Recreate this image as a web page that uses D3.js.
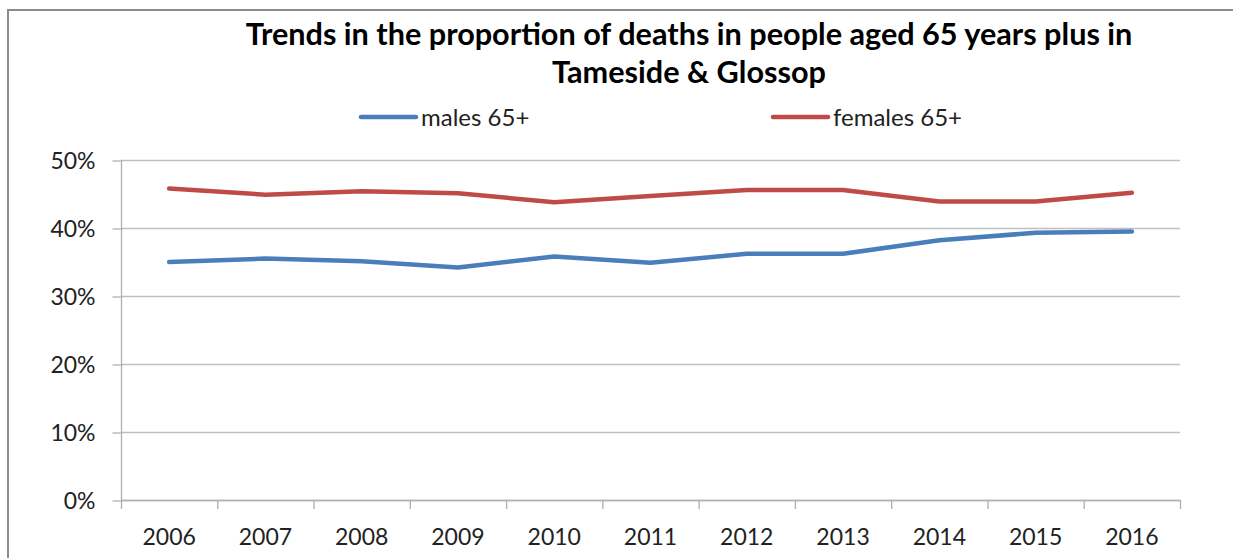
<!DOCTYPE html>
<html>
<head>
<meta charset="utf-8">
<script src="https://cdn.jsdelivr.net/npm/d3@7"></script>
<style>
  html, body { margin: 0; padding: 0; background: #fff; }
  svg { display: block; }
</style>
</head>
<body>
<svg id="chart" width="1233" height="558"></svg>
<script>
const years = ["2006","2007","2008","2009","2010","2011","2012","2013","2014","2015","2016"];
const males65 = [35.0, 35.5, 35.1, 34.2, 35.8, 34.9, 36.2, 36.2, 38.2, 39.3, 39.5];
const females65 = [45.8, 44.9, 45.4, 45.1, 43.8, 44.7, 45.6, 45.6, 43.9, 43.9, 45.2];
const yTicks = [0, 10, 20, 30, 40, 50];
const seriesNames = ["males 65+", "females 65+"];
const titleLines = ["Trends in the proportion of deaths in people aged 65 years plus in", "Tameside & Glossop"];

const colors = ["#4a7ebb", "#be4b48"];
const font = "Lato, 'Open Sans', sans-serif";

const svg = d3.select("#chart");

// outer chart border
svg.append("rect").attr("x", 8).attr("y", 10).attr("width", 1240).attr("height", 600)
  .attr("fill", "#fff").attr("stroke", "#8c8c8c").attr("stroke-width", 2);

const plot = { left: 121, right: 1180, top: 160, bottom: 500 };

const x = d3.scaleBand().domain(years).range([plot.left, plot.right]).paddingInner(0).paddingOuter(0);
const y = d3.scaleLinear().domain([0, 50]).range([plot.bottom, plot.top]);

// gridlines
svg.append("g").selectAll("line").data(yTicks).join("line")
  .attr("x1", plot.left).attr("x2", plot.right)
  .attr("y1", d => y(d) + 0.5).attr("y2", d => y(d) + 0.5)
  .attr("stroke", "#c0c0c0").attr("stroke-width", 1.3);

// Y axis
const yAxis = svg.append("g").attr("transform", `translate(${plot.left + 0.5},0)`)
  .call(d3.axisLeft(y).tickValues(yTicks).tickSize(9).tickPadding(17).tickFormat(d => d + "%"));
yAxis.select(".domain").attr("stroke", "#b0b0b0").attr("stroke-width", 1.3).attr("d", `M0,${plot.top}V${plot.bottom}`);
yAxis.selectAll(".tick line").attr("stroke", "#b0b0b0").attr("stroke-width", 1.3).attr("transform", "translate(0,0.5)");
yAxis.selectAll(".tick text").attr("font-family", font).attr("font-size", 23).attr("fill", "#222").attr("dy", "0.36em");

// X axis
const xAxis = svg.append("g").attr("transform", `translate(0,${plot.bottom + 0.5})`)
  .call(d3.axisBottom(x).tickSize(0).tickPadding(28));
xAxis.select(".domain").remove();
xAxis.selectAll(".tick text").attr("font-family", font).attr("font-size", 23).attr("fill", "#222");
// category boundary ticks
const bounds = years.map(d => x(d)).concat([x(years[years.length - 1]) + x.bandwidth()]);
svg.append("g").selectAll("line").data(bounds).join("line")
  .attr("x1", d => d + 0.5).attr("x2", d => d + 0.5)
  .attr("y1", plot.bottom).attr("y2", plot.bottom + 9)
  .attr("stroke", "#b0b0b0").attr("stroke-width", 1.3);
svg.append("line").attr("x1", plot.left).attr("x2", plot.right)
  .attr("y1", plot.bottom + 0.5).attr("y2", plot.bottom + 0.5)
  .attr("stroke", "#b0b0b0").attr("stroke-width", 1.3);

// lines
const line = d3.line().x((d, i) => x(years[i]) + x.bandwidth() / 2).y(d => y(d));
[males65, females65].forEach((s, i) => {
  svg.append("path").datum(s).attr("d", line).attr("fill", "none")
    .attr("stroke", colors[i]).attr("stroke-width", 4.5)
    .attr("stroke-linejoin", "round").attr("stroke-linecap", "round");
});

// title
const titleCx = 689;
const t1 = svg.append("text").attr("x", titleCx).attr("y", 45).attr("text-anchor", "middle")
  .attr("font-family", font).attr("font-weight", "bold").attr("font-size", 26).attr("fill", "#000")
  .text(titleLines[0]);
const w1 = t1.node().getComputedTextLength();
const fs = 26 * 887 / w1;
t1.attr("font-size", fs);
svg.append("text").attr("x", titleCx).attr("y", 83).attr("text-anchor", "middle")
  .attr("font-family", font).attr("font-weight", "bold").attr("font-size", fs).attr("fill", "#000")
  .text(titleLines[1]);

// legend
const legendX = [361, 773];
const legendY = 117;
seriesNames.forEach((name, i) => {
  const g = svg.append("g");
  g.append("line").attr("x1", legendX[i]).attr("x2", legendX[i] + 55)
    .attr("y1", legendY).attr("y2", legendY)
    .attr("stroke", colors[i]).attr("stroke-width", 4.5).attr("stroke-linecap", "round");
  g.append("text").attr("x", legendX[i] + 60).attr("y", legendY).attr("dy", "0.36em")
    .attr("font-family", font).attr("font-size", 24).attr("fill", "#222").text(name);
});
</script>
</body>
</html>
